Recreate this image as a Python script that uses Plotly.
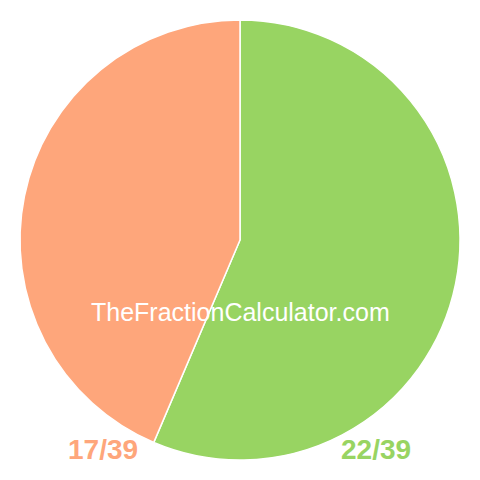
import plotly.graph_objects as go

labels = ["22/39", "17/39"]
values = [22, 17]
colors = ["#98D462", "#FEA67B"]

W = 480
OFF = 8  # page body margin offset


def px(x):
    return (x - OFF) / W


def py(y):
    return 1 - (y - OFF) / W


fig = go.Figure(go.Pie(
    labels=labels, values=values, sort=False, direction="clockwise", rotation=0,
    marker=dict(colors=colors, line=dict(color="white", width=1.5)),
    textinfo="none", hoverinfo="label", showlegend=False,
    domain=dict(x=[px(20), px(460)], y=[py(460), py(20)]),
))

fig.add_annotation(x=px(240), y=py(312), xref="paper", yref="paper",
                   xanchor="center", yanchor="middle",
                   text="TheFractionCalculator.com", showarrow=False,
                   font=dict(family="Liberation Sans, Arial", size=25, color="white"))
fig.add_annotation(x=px(103), y=py(449), xref="paper", yref="paper",
                   xanchor="center", yanchor="middle",
                   text="<b>%s</b>" % labels[1], showarrow=False,
                   font=dict(family="Liberation Sans, Arial", size=28, color=colors[1]))
fig.add_annotation(x=px(376), y=py(449), xref="paper", yref="paper",
                   xanchor="center", yanchor="middle",
                   text="<b>%s</b>" % labels[0], showarrow=False,
                   font=dict(family="Liberation Sans, Arial", size=28, color=colors[0]))

fig.update_layout(width=W, height=W, margin=dict(l=0, r=0, t=0, b=0),
                  paper_bgcolor="white", plot_bgcolor="white")
fig.write_html("out.html")
